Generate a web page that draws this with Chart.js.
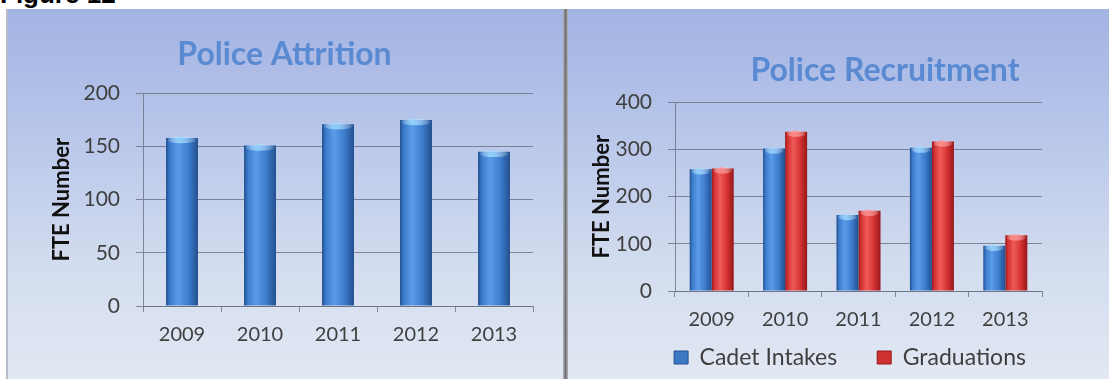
<!DOCTYPE html>
<html><head><meta charset="utf-8">
<script src="https://cdn.jsdelivr.net/npm/chart.js@4.4.1/dist/chart.umd.min.js"></script>
<style>
html,body{margin:0;padding:0;background:#fff;width:1109px;height:380px;overflow:hidden;position:relative;font-family:Lato,sans-serif}
#fig{position:absolute;left:0;top:-19px;font:bold 26px "Liberation Sans",Arial,sans-serif;line-height:1;color:#000;white-space:nowrap}
.panel{position:absolute;top:9px;height:370px;background:linear-gradient(to bottom,#a3b3e3 0%,#b9c7ea 35%,#d3ddef 70%,#e2e8f3 100%)}
#p1{left:6px;width:557px;box-shadow:inset 2px 0 0 #b7bcc9}
#p2{left:568px;width:541px}
#divider{position:absolute;left:563px;top:9px;width:5px;height:370px;background:linear-gradient(to right,#b4b6ba,#6d6f73 50%,#b4b6ba)}
.wrap{position:absolute;top:9px;height:369px}
#w1{left:6px;width:558px}
#w2{left:568px;width:541px}
</style></head>
<body>
<div id="fig">Figure 12</div>
<div class="panel" id="p1"></div>
<div class="panel" id="p2"></div>
<div id="divider"></div>
<div class="wrap" id="w1"><canvas id="c1" width="558" height="369"></canvas></div>
<div class="wrap" id="w2"><canvas id="c2" width="541" height="369"></canvas></div>
<script>
// ---- data ----
const years = ['2009', '2010', '2011', '2012', '2013'];
const attrition = [158, 151, 171, 175, 145];
const cadetIntakes = [258, 302, 161, 304, 96];
const graduations = [260, 338, 170, 317, 118];
const attritionTicks = [0, 50, 100, 150, 200];
const recruitTicks = [0, 100, 200, 300, 400];
const seriesNames = ['Cadet Intakes', 'Graduations'];

// ---- styling helpers ----
const BLUE = {edge: '#22508e', light: '#5a9ce8', mid: '#3c7ccc', solid: '#3a78c4', cap: 'rgba(150,215,255,0.85)'};
const RED = {edge: '#951818', light: '#f05a5a', mid: '#d43232', solid: '#cf3030', cap: 'rgba(255,140,140,0.85)'};
const GRID = 'rgba(105,113,130,0.8)';
const TICK_COLOR = '#3f3f3f';

function cylFill(pal, nSets, catPct) {
  return function (c) {
    const chart = c.chart;
    const x = chart.scales && chart.scales.x;
    if (!x || !isFinite(x.getPixelForValue(1))) return pal.mid;
    const cw = x.getPixelForValue(1) - x.getPixelForValue(0);
    const center = x.getPixelForValue(c.dataIndex);
    const gw = cw * catPct;
    const bw = gw / nSets;
    const left = center - gw / 2 + c.datasetIndex * bw;
    const g = chart.ctx.createLinearGradient(left, 0, left + bw, 0);
    g.addColorStop(0, pal.edge);
    g.addColorStop(0.12, pal.mid);
    g.addColorStop(0.38, pal.light);
    g.addColorStop(0.7, pal.mid);
    g.addColorStop(1, pal.edge);
    return g;
  };
}

// positions title / legend blocks after layout
const shiftPlugin = {
  id: 'shift',
  beforeLayout(chart, args, opts) {
    const l = chart.legend;
    if (l && opts.legendHeight && !l._patched) {
      const orig = l.fit.bind(l);
      l.fit = function () { orig(); this.height = opts.legendHeight; };
      l._patched = true;
    }
  },
  afterLayout(chart, args, opts) {
    const t = chart.titleBlock;
    if (t && opts.title) { t.left += opts.title; t.right += opts.title; }
    const l = chart.legend;
    if (l && opts.legend) { l.left += opts.legend; l.right += opts.legend; }
    if (l && opts.legendTop !== undefined) {
      l.top = opts.legendTop;
      l.height = opts.legendBox;
      l.bottom = l.top + opts.legendBox;
    }
  }
};

// light highlight on the top of each cylinder-like bar
const capPlugin = {
  id: 'caps',
  afterDatasetsDraw(chart, args, opts) {
    const ctx = chart.ctx;
    chart.data.datasets.forEach((ds, di) => {
      const meta = chart.getDatasetMeta(di);
      const col = opts.colors[di];
      meta.data.forEach(bar => {
        const w = bar.width;
        ctx.save();
        const g = ctx.createLinearGradient(bar.x - w / 2, 0, bar.x + w / 2, 0);
        g.addColorStop(0, 'rgba(255,255,255,0)');
        g.addColorStop(0.4, col);
        g.addColorStop(1, 'rgba(255,255,255,0.05)');
        ctx.fillStyle = g;
        ctx.beginPath();
        ctx.ellipse(bar.x, bar.y + 2, w / 2 - 1.5, 3.2, 0, 0, Math.PI * 2);
        ctx.fill();
        ctx.restore();
      });
    });
  }
};

function yAxis(ticksArr, width, titlePad) {
  return {
    min: ticksArr[0], max: ticksArr[ticksArr.length - 1],
    ticks: {stepSize: ticksArr[1] - ticksArr[0], color: TICK_COLOR, padding: 16,
      font: {family: 'Lato', size: 21}},
    grid: {color: GRID, lineWidth: 1, tickLength: 7, tickColor: GRID},
    border: {display: true, color: GRID},
    title: {display: true, text: 'FTE Number', color: '#111',
      font: {family: 'Lato', size: 22, weight: 'bold'}, padding: {top: titlePad, bottom: 0}},
    afterFit(s) { s.width = width; }
  };
}
function xAxis(height) {
  return {
    ticks: {color: TICK_COLOR, padding: 11, font: {family: 'Lato', size: 20}},
    grid: {drawOnChartArea: false, tickLength: 6, color: GRID, tickColor: GRID, offset: true},
    border: {display: true, color: GRID},
    afterFit(s) { s.height = height; }
  };
}

// ---- Chart 1: Police Attrition ----
new Chart(document.getElementById('c1'), {
  type: 'bar',
  data: {
    labels: years,
    datasets: [{label: 'Attrition', data: attrition,
      backgroundColor: cylFill(BLUE, 1, 0.41), borderWidth: 0,
      categoryPercentage: 0.41, barPercentage: 1}]
  },
  options: {
    responsive: false, animation: false,
    layout: {padding: {left: 0, right: 31, top: 0, bottom: 0}},
    plugins: {
      legend: {display: false},
      tooltip: {enabled: false},
      title: {display: true, text: 'Police Attrition', color: '#5a8ad1',
        font: {family: 'Lato', size: 32, weight: 'bold'}, padding: {top: 26, bottom: 20}},
      shift: {title: 15},
      caps: {colors: [BLUE.cap]}
    },
    scales: {x: xAxis(72), y: yAxis(attritionTicks, 137, 43)}
  },
  plugins: [shiftPlugin, capPlugin]
});

// ---- Chart 2: Police Recruitment ----
new Chart(document.getElementById('c2'), {
  type: 'bar',
  data: {
    labels: years,
    datasets: [
      {label: seriesNames[0], data: cadetIntakes, backgroundColor: cylFill(BLUE, 2, 0.6),
        borderWidth: 0, categoryPercentage: 0.6, barPercentage: 1},
      {label: seriesNames[1], data: graduations, backgroundColor: cylFill(RED, 2, 0.6),
        borderWidth: 0, categoryPercentage: 0.6, barPercentage: 1}
    ]
  },
  options: {
    responsive: false, animation: false,
    layout: {padding: {left: 0, right: 67, top: 0, bottom: 0}},
    plugins: {
      legend: {display: true, position: 'bottom',
        labels: {boxWidth: 14, boxHeight: 13, padding: 40, color: TICK_COLOR,
          font: {family: 'Lato', size: 23},
          generateLabels(chart) {
            const pals = [BLUE, RED];
            return chart.data.datasets.map((d, i) => ({
              text: d.label, fillStyle: pals[i].solid, strokeStyle: pals[i].edge,
              lineWidth: 1, hidden: false, datasetIndex: i, fontColor: TICK_COLOR
            }));
          }}},
      tooltip: {enabled: false},
      title: {display: true, text: 'Police Recruitment', color: '#5a8ad1',
        font: {family: 'Lato', size: 32, weight: 'bold'}, padding: {top: 42, bottom: 13}},
      shift: {title: 80, legend: 45, legendHeight: 43, legendTop: 297, legendBox: 72},
      caps: {colors: [BLUE.cap, RED.cap]}
    },
    scales: {x: xAxis(44), y: yAxis(recruitTicks, 107, 21)}
  },
  plugins: [shiftPlugin, capPlugin]
});
</script>
</body></html>
